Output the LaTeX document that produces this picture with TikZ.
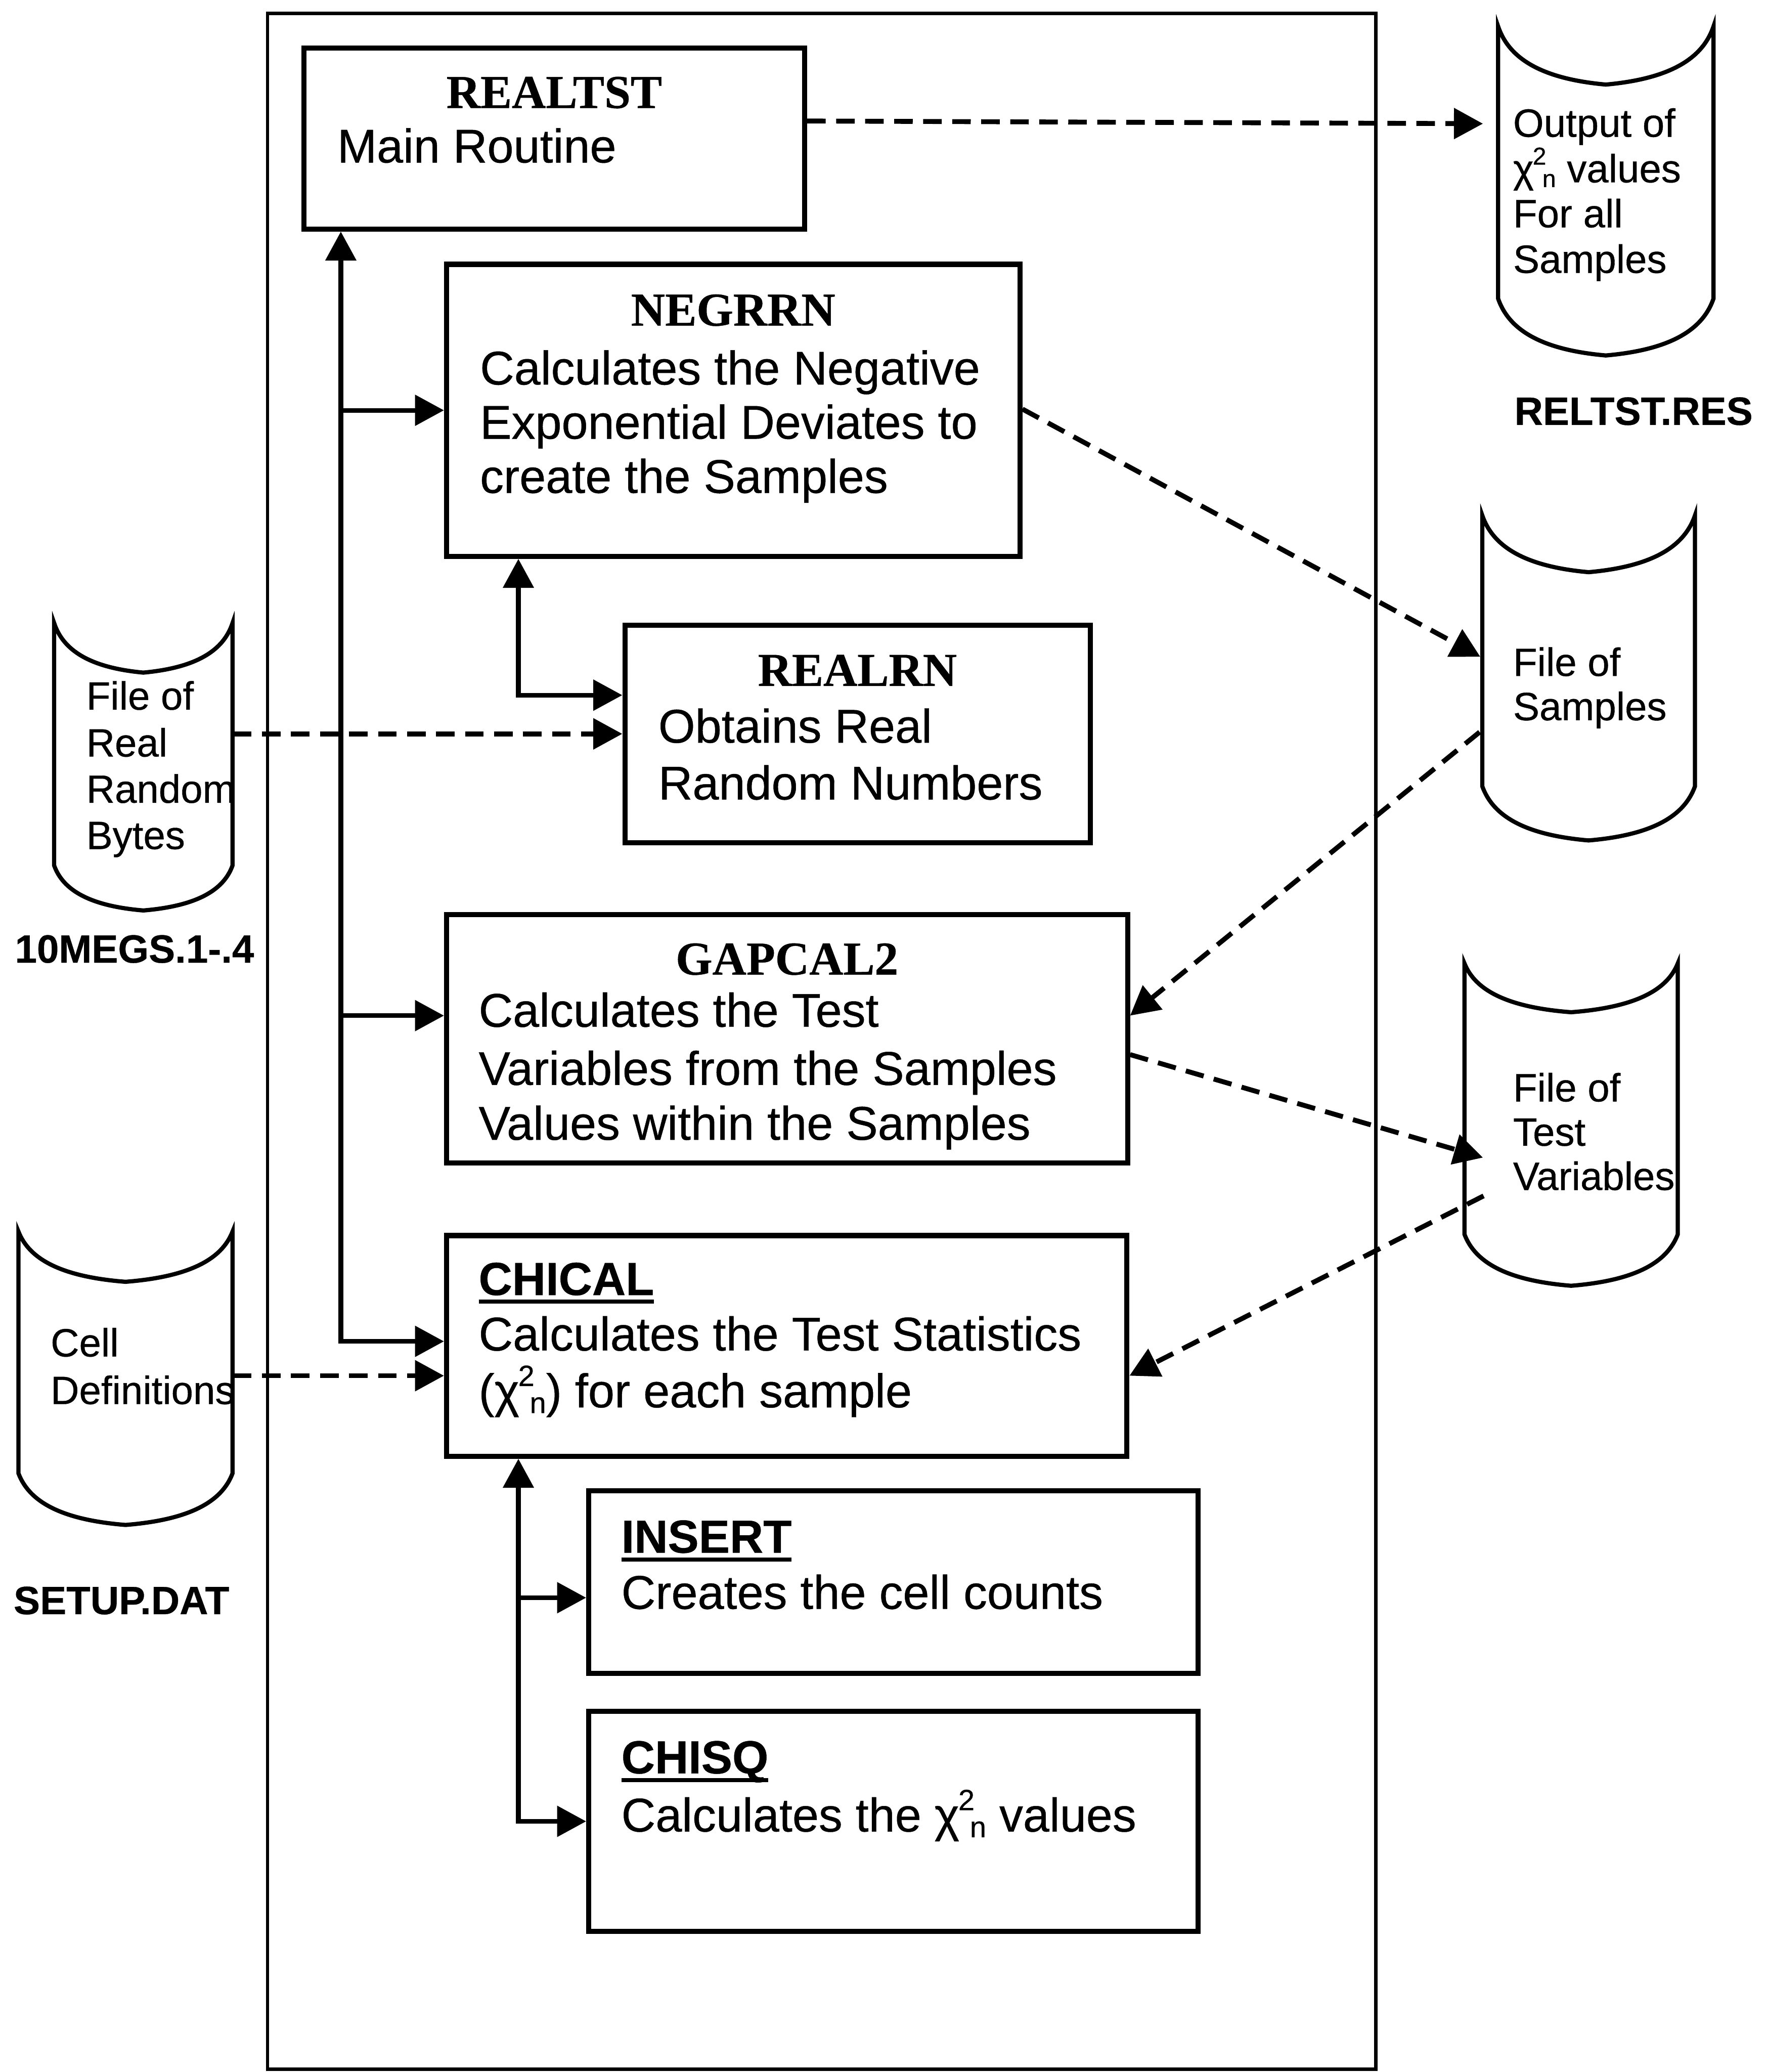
\documentclass[tikz,border=0pt]{standalone}
\usepackage{fontspec}
\setmainfont{Liberation Sans}[FakeBold=0.5]
\newfontfamily\serifface{Liberation Serif}[FakeBold=0.5]
\usetikzlibrary{arrows.meta,calc,fit}
\newcommand\bodyfont{\fontsize{20.4pt}{24pt}\selectfont}
\newcommand\titlefont{\serifface\bfseries\fontsize{20.3pt}{24pt}\selectfont}
\newcommand\stitlefont{\bfseries\fontsize{20pt}{24pt}\selectfont}
\newcommand\cylfont{\fontsize{17pt}{20pt}\selectfont}
\newcommand\labfont{\bfseries\fontsize{17pt}{20pt}\selectfont}
\newcommand\ulword[1]{\setbox0=\hbox{#1}\rlap{\rule[-3.8pt]{\wd0}{1.8pt}}\box0}
\newcommand\chin{χ\kern-0.5pt\raisebox{0.45em}{\fontsize{0.62em}{0.7em}\selectfont 2}\kern-0.1em\raisebox{-0.12em}{\fontsize{0.62em}{0.7em}\selectfont n}}
\newcommand\cylinder[7]{% name, L, R, tip y, top sag y, side end y, bottom y
  \node[inner sep=0pt, fit={(#2,#4) (#3,#7)}] (#1) {};
  \draw[cylline] (#2,#4)
   .. controls ({#2+0.05*(#3-#2)},{#4+0.55*(#5-#4)}) and ({#2+0.2*(#3-#2)},{#4+0.9*(#5-#4)}) .. ({(#2+#3)/2},#5)
   .. controls ({#3-0.2*(#3-#2)},{#4+0.9*(#5-#4)}) and ({#3-0.05*(#3-#2)},{#4+0.55*(#5-#4)}) .. (#3,#4)
   -- (#3,#6)
   .. controls ({#3-0.05*(#3-#2)},{#6+0.55*(#7-#6)}) and ({#3-0.2*(#3-#2)},{#6+0.9*(#7-#6)}) .. ({(#2+#3)/2},#7)
   .. controls ({#2+0.2*(#3-#2)},{#6+0.9*(#7-#6)}) and ({#2+0.05*(#3-#2)},{#6+0.55*(#7-#6)}) .. (#2,#6)
   -- cycle;
}
\begin{document}
\begin{tikzpicture}[
  x=0.02cm, y=-0.02cm,
  >={Triangle[length=12.5pt,width=13pt]},
  box/.style={draw, line width=2.2pt, inner sep=0pt},
  framebox/.style={draw, line width=1.5pt, inner sep=0pt},
  cylline/.style={line width=1.8pt},
  conn/.style={line width=2pt},
  dconn/.style={line width=2.1pt, dash pattern=on 8pt off 4.5pt},
  ttl/.style={font=\titlefont, inner sep=0pt, anchor=base},
  sttl/.style={font=\stitlefont, inner sep=0pt, anchor=base west},
  txt/.style={font=\bodyfont, inner sep=0pt, anchor=base west},
  ctxt/.style={font=\cylfont, inner sep=0pt, anchor=base west},
  lab/.style={font=\labfont, inner sep=0pt, anchor=base west}
]
\useasboundingbox (0,0) rectangle (1336,1568);

% outer frame
\node[framebox, fit={(202.5,10) (1041.5,1566)}] (frame) {};

% boxes
\node[box, fit={(230,36.5) (609,173.3)}] (realtst) {};
\node[box, fit={(338,200) (772,421)}] (negrrn) {};
\node[box, fit={(473,473) (825.5,637.7)}] (realrn) {};
\node[box, fit={(338,692) (853.5,880)}] (gapcal) {};
\node[box, fit={(338,935) (853,1102)}] (chical) {};
\node[box, fit={(445.6,1128) (907,1266.5)}] (insert) {};
\node[box, fit={(445.6,1295) (907,1461.6)}] (chisq) {};

% box texts
\node[ttl] (realtstT) at (419.5,81.7) {REALTST};
\node[txt] (realtstB) at (255,123) {Main Routine};

\node[ttl] (negrrnT) at (555,246.4) {NEGRRN};
\node[txt] (negrrnB1) at (363,291) {Calculates the Negative};
\node[txt] (negrrnB2) at (363,332) {Exponential Deviates to};
\node[txt] (negrrnB3) at (363,373) {create the Samples};

\node[ttl] (realrnT) at (649,519) {REALRN};
\node[txt] (realrnB1) at (498,562) {Obtains Real};
\node[txt] (realrnB2) at (498,605) {Random Numbers};

\node[ttl] (gapcalT) at (595.7,737.5) {GAPCAL2};
\node[txt] (gapcalB1) at (362,777) {Calculates the Test};
\node[txt] (gapcalB2) at (362,821) {Variables from the Samples};
\node[txt] (gapcalB3) at (362,862.5) {Values within the Samples};

\node[sttl] (chicalT) at (362,980) {\ulword{CHICAL}};
\node[txt] (chicalB1) at (362,1022) {Calculates the Test Statistics};
\node[txt] (chicalB2) at (362,1065) {(\chin) for each sample};

\node[sttl] (insertT) at (470,1175) {\ulword{INSERT}};
\node[txt] (insertB) at (470,1217.5) {Creates the cell counts};

\node[sttl] (chisqT) at (470,1342) {\ulword{CHISQ}};
\node[txt] (chisqB) at (470,1386) {Calculates the \chin{} values};

% cylinders
\cylinder{outcyl}{1134}{1297}{20}{64}{226}{269}
\cylinder{sampcyl}{1122}{1283}{390}{433}{595}{636}
\cylinder{tvcyl}{1108.5}{1270}{729}{766}{934}{973}
\cylinder{megcyl}{41}{176}{471.5}{509}{655}{689}
\cylinder{setcyl}{14}{176}{932}{970}{1115}{1154}

\node[ctxt] (outT1) at (1145,103.5) {Output of};
\node[ctxt] (outT2) at (1145,138) {\chin{} values};
\node[ctxt] (outT3) at (1145,172) {For all};
\node[ctxt] (outT4) at (1145,206.5) {Samples};
\node[lab] (outL) at (1146,321.5) {RELTST.RES};

\node[ctxt] (sampT1) at (1145,511.5) {File of};
\node[ctxt] (sampT2) at (1145,545) {Samples};

\node[ctxt] (tvT1) at (1145,833.5) {File of};
\node[ctxt] (tvT2) at (1145,867) {Test};
\node[ctxt] (tvT3) at (1145,900.5) {Variables};

\node[ctxt] (megT1) at (65,537) {File of};
\node[ctxt] (megT2) at (65,572.5) {Real};
\node[ctxt] (megT3) at (65,607.5) {Random};
\node[ctxt] (megT4) at (65,642.5) {Bytes};
\node[lab] (megL) at (11,728.5) {10MEGS.1-.4};

\node[ctxt] (setT1) at (38,1026.5) {Cell};
\node[ctxt] (setT2) at (38,1062.5) {Definitions};
\node[lab] (setL) at (10,1221.5) {SETUP.DAT};

% solid connectors
\coordinate (trunk) at (258,0);
\coordinate (spur) at (392.4,0);
\coordinate (chiIn) at ($(chical.north west)+(0,82)$);
\coordinate (gapIn) at ($(gapcal.north west)+(0,78.5)$);
\coordinate (rrnIn) at ($(realrn.north west)+(0,55)$);
\coordinate (insIn) at ($(insert.north west)+(0,83)$);
\draw[conn,<->] (trunk |- realtst.south) |- (chiIn);
\draw[conn,->] (trunk |- negrrn.west) -- (negrrn.west);
\draw[conn,->] (trunk |- gapIn) -- (gapIn);
\draw[conn,<->] (spur |- negrrn.south) |- (rrnIn);
\draw[conn,<->] (spur |- chical.south) |- (chisq.west);
\draw[conn,->] (spur |- insIn) -- (insIn);

% dashed connectors
\coordinate (rtOut) at ($(realtst.north east)+(0,57)$);
\coordinate (outIn) at (1122.5,93.6);
\coordinate (ngOut) at ($(negrrn.north east)+(0,111.5)$);
\coordinate (sampIn) at (1120.5,497);
\coordinate (sampOut) at (1120,554);
\coordinate (gapR1) at ($(gapcal.north east)+(0,78.5)$);
\coordinate (gapR2) at ($(gapcal.north east)+(0,108)$);
\coordinate (tvIn) at (1122.5,876);
\coordinate (tvOut) at (1123,905);
\coordinate (chiR) at ($(chical.north east)+(0,108)$);
\coordinate (chiL) at ($(chical.north west)+(0,108)$);
\draw[dconn,->] (rtOut) -- (outIn);
\draw[dconn,->] (ngOut) -- (sampIn);
\draw[dconn,->] (sampOut) -- (gapR1);
\draw[dconn,->] (gapR2) -- (tvIn);
\draw[dconn,->] (tvOut) -- (chiR);
\draw[dconn,->] (megcyl.east |- realrn.west) -- (realrn.west);
\draw[dconn,->] (setcyl.east |- chiL) -- (chiL);
\end{tikzpicture}
\end{document}
